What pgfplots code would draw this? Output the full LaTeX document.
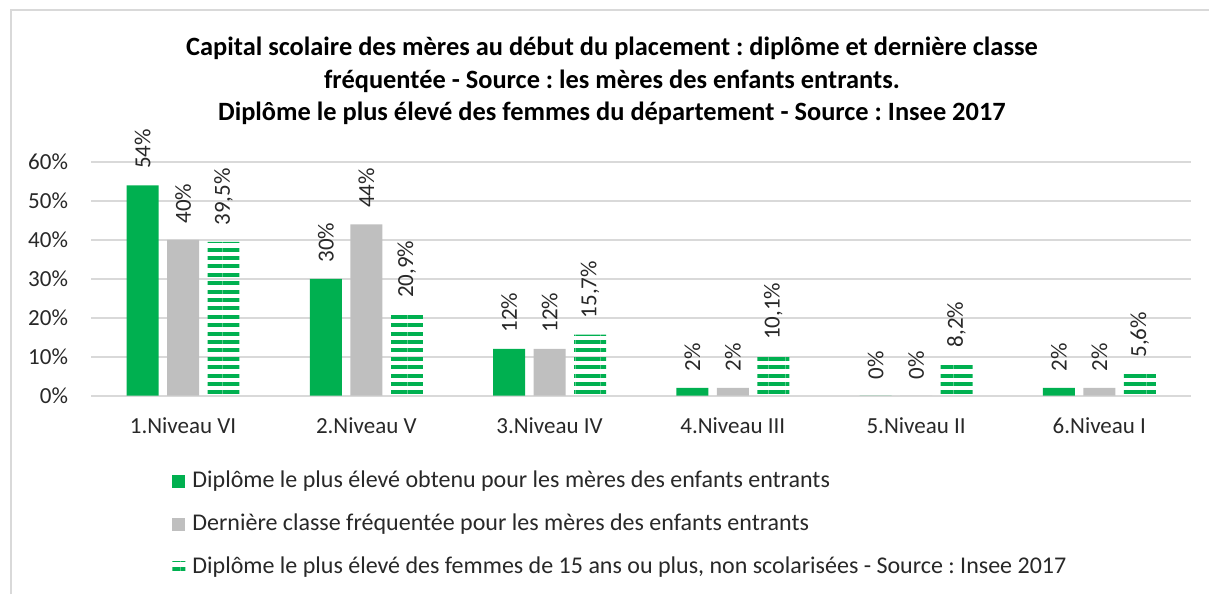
\documentclass[border=0pt]{standalone}
\usepackage{fontspec}
\setmainfont{Carlito}
\usepackage{pgfplots}
\pgfplotsset{compat=1.18}
\usetikzlibrary{patterns.meta}
\definecolor{vert}{RGB}{0,176,80}
\definecolor{gris}{RGB}{191,191,191}
\definecolor{grille}{RGB}{217,217,217}
\definecolor{texte}{RGB}{40,40,40}
\frenchspacing

\begin{document}
\begin{tikzpicture}
\useasboundingbox (0,0) rectangle (604.5pt,297pt);
\draw[grille, line width=1pt] (5.5pt,0) -- (5.5pt,292pt) -- (604.5pt,292pt);
\node[font=\bfseries\fontsize{13.2}{16.25}\selectfont, align=center, text=black] at (306pt,256.5pt)
  {Capital scolaire des mères au début du placement : diplôme et dernière classe\\
   fréquentée - Source : les mères des enfants entrants.\\
   Diplôme le plus élevé des femmes du département - Source : Insee 2017};
\begin{axis}[
  at={(45.7pt,99.15pt)}, anchor=south west,
  scale only axis, width=549.8pt, height=116.85pt,
  ybar=4.25pt, bar width=16pt,
  xmin=-0.5, xmax=5.5, ymin=0, ymax=60,
  enlargelimits=false,
  xtick={0,...,5},
  xticklabels={1.Niveau VI, 2.Niveau V, 3.Niveau IV, 4.Niveau III, 5.Niveau II, 6.Niveau I},
  ytick={0,10,...,60},
  yticklabel={\pgfmathprintnumber{\tick}\%},
  /pgf/number format/assume math mode=true,
  major tick length=0pt,
  axis line style={draw=none},
  ymajorgrids, grid style={grille, line width=1pt},
  font=\fontsize{11.5}{13}\selectfont,
  tick label style={text=texte, inner sep=0pt},
  yticklabel style={xshift=-11.5pt},
  xticklabel style={anchor=base, yshift=-19pt},
  nodes near coords={\pgfmathprintnumber[use comma,fixed,precision=1]{\pgfplotspointmeta}\%},
  every node near coord/.append style={rotate=90, anchor=west, inner ysep=0pt, inner xsep=8pt, text=texte, font=\fontsize{11.5}{13}\selectfont},
  legend image code/.code={\fill[#1] (0pt,-3.25pt) rectangle (6.5pt,3.25pt);},
  legend style={at={(0.0733,-0.321)}, anchor=north west, draw=none, inner sep=0pt,
    row sep=11pt, column sep=3.5pt, text=texte, font=\fontsize{12}{14}\selectfont,
    nodes={inner sep=0pt, text height=8pt, text depth=2.5pt}},
  legend cell align=left,
]
  \addplot[fill=vert, draw=none] coordinates {(0,54) (1,30) (2,12) (3,2) (4,0) (5,2)};
  \addlegendentry{Diplôme le plus élevé obtenu pour les mères des enfants entrants}
  \addplot[fill=gris, draw=none] coordinates {(0,40) (1,44) (2,12) (3,2) (4,0) (5,2)};
  \addlegendentry{Dernière classe fréquentée pour les mères des enfants entrants}
  \addplot[draw=none, pattern={Lines[angle=0,distance=4.2pt,line width=2pt]}, pattern color=vert]
    coordinates {(0,39.5) (1,20.9) (2,15.7) (3,10.1) (4,8.2) (5,5.6)};
  \addlegendentry{Diplôme le plus élevé des femmes de 15 ans ou plus, non scolarisées - Source : Insee 2017}
\end{axis}
\end{tikzpicture}
\end{document}
